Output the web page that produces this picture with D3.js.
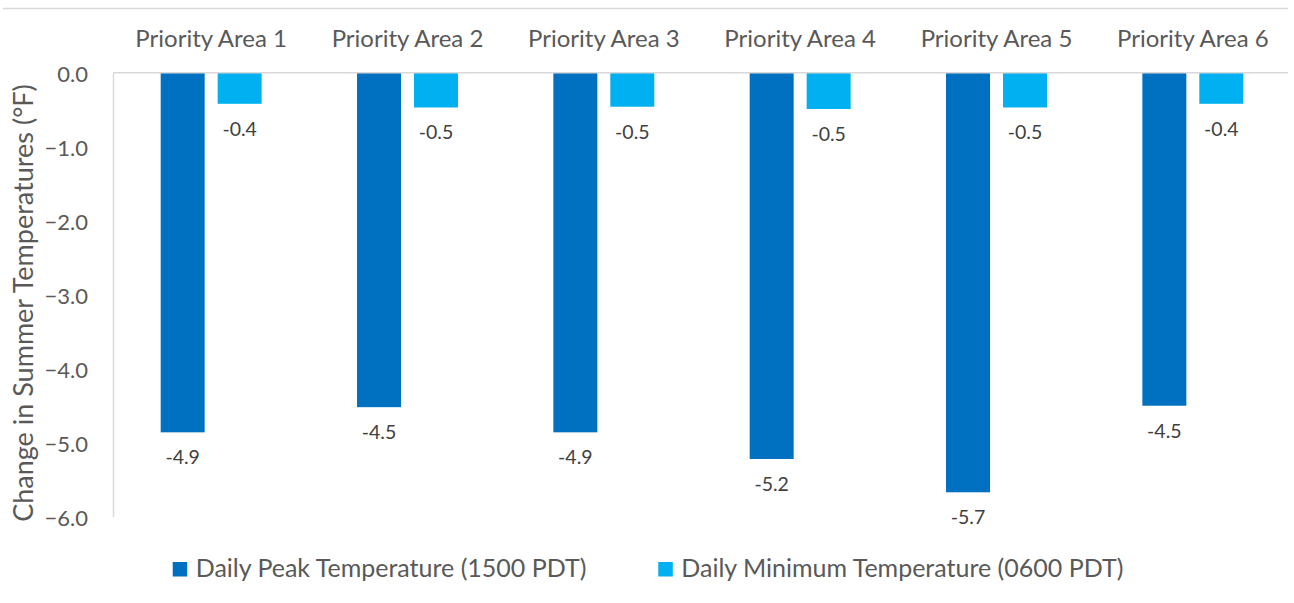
<!DOCTYPE html>
<html>
<head>
<meta charset="utf-8">
<script src="https://cdn.jsdelivr.net/npm/d3@7"></script>
<style>
  html, body { margin: 0; padding: 0; background: #ffffff; }
  svg { display: block; font-family: Lato, "Open Sans", sans-serif; }
</style>
</head>
<body>
<svg id="chart" width="1294" height="603"></svg>
<script>
// ---- data ----
const categories = ["Priority Area 1", "Priority Area 2", "Priority Area 3", "Priority Area 4", "Priority Area 5", "Priority Area 6"];
const seriesNames = ["Daily Peak Temperature (1500 PDT)", "Daily Minimum Temperature (0600 PDT)"];
const peakValues = [-4.86, -4.52, -4.86, -5.22, -5.67, -4.50];
const minValues = [-0.42, -0.47, -0.46, -0.49, -0.47, -0.42];
const yTicks = [0, -1, -2, -3, -4, -5, -6];
const yTitle = "Change in Summer Temperatures (°F)";

// ---- layout ----
const plot = { left: 113, right: 1291, top: 72.7, bottom: 516.7 };
const colors = ["#0070C0", "#00B0F0"];
const svg = d3.select("#chart");

const x = d3.scaleBand().domain(categories).range([plot.left, plot.right]).padding(0);
const xInner = d3.scaleBand().domain([0, 1]).range([0, x.bandwidth()]).paddingInner(0.228).paddingOuter(0.837);
const y = d3.scaleLinear().domain([-6, 0]).range([plot.bottom, plot.top]);

// top border line
svg.append("line").attr("x1", 3).attr("x2", 1288).attr("y1", 8.5).attr("y2", 8.5)
  .attr("stroke", "#d9d9d9").attr("stroke-width", 1.5);

// bars
const series = [peakValues, minValues];
series.forEach((vals, si) => {
  svg.append("g").selectAll("rect").data(vals).join("rect")
    .attr("x", (d, i) => x(categories[i]) + xInner(si))
    .attr("y", y(0))
    .attr("width", xInner.bandwidth())
    .attr("height", d => y(d) - y(0))
    .attr("fill", colors[si]);
  svg.append("g").selectAll("text").data(vals).join("text")
    .attr("x", (d, i) => x(categories[i]) + xInner(si) + xInner.bandwidth() / 2)
    .attr("y", d => y(d) + 32)
    .attr("text-anchor", "middle")
    .attr("font-size", 19.5)
    .attr("fill", "#404040")
    .text(d => d.toFixed(1));
});

// zero line (category axis at top)
svg.append("line").attr("x1", plot.left).attr("x2", 1288).attr("y1", y(0)).attr("y2", y(0))
  .attr("stroke", "#d9d9d9").attr("stroke-width", 1.5);

// y axis
const yAxis = d3.axisLeft(y).tickValues(yTicks).tickFormat(d3.format(".1f")).tickSize(0).tickPadding(25);
const gy = svg.append("g").attr("transform", `translate(${plot.left},0)`).call(yAxis);
gy.select(".domain").attr("stroke", "#d9d9d9").attr("stroke-width", 1.5);
gy.selectAll("text").attr("font-size", 22).attr("fill", "#595959")
  .attr("font-family", "Lato, sans-serif").attr("dy", "0.4em");

// category labels on top
const xAxis = d3.axisTop(x).tickSize(0).tickPadding(0);
const gx = svg.append("g").attr("transform", `translate(0,46.7)`).call(xAxis);
gx.select(".domain").remove();
gx.selectAll("text").attr("font-size", 24).attr("fill", "#595959")
  .attr("font-family", "Lato, sans-serif").attr("dy", 0);

// y title
svg.append("text")
  .attr("transform", `translate(33,${(78 + 528) / 2}) rotate(-90)`)
  .attr("text-anchor", "middle")
  .attr("font-size", 27)
  .attr("fill", "#595959")
  .text(yTitle);

// legend
const legendX = [172.7, 658.3];
seriesNames.forEach((name, i) => {
  const g = svg.append("g").attr("transform", `translate(${legendX[i]},0)`);
  g.append("rect").attr("x", 0).attr("y", 562).attr("width", 14.5).attr("height", 14.5).attr("fill", colors[i]);
  g.append("text").attr("x", 23).attr("y", 577).attr("font-size", 25)
    .attr("fill", "#595959").text(name);
});
</script>
</body>
</html>
